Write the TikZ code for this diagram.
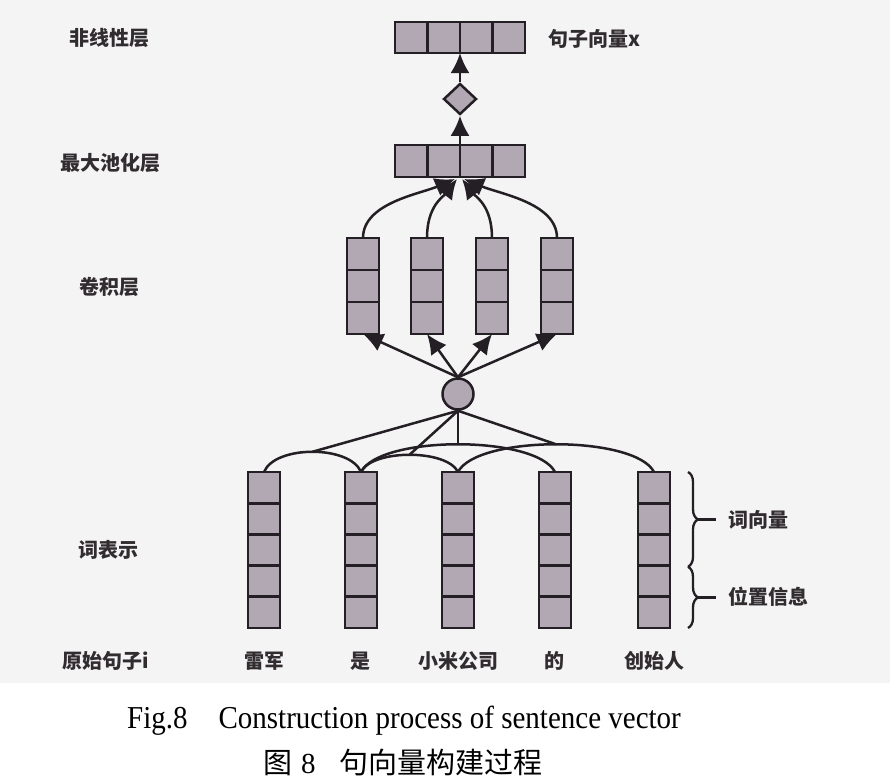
\documentclass[tikz,border=0pt]{standalone}
\usepackage{fontspec}
\setmainfont{Liberation Serif}
\newfontfamily\cjk{Noto Sans CJK SC}
\usetikzlibrary{shapes.geometric,arrows.meta,decorations.pathreplacing}
\definecolor{cellc}{RGB}{177,168,180}
\definecolor{linec}{RGB}{36,31,36}
\definecolor{bgc}{RGB}{245,244,244}
\definecolor{txtc}{RGB}{48,44,48}
\begin{document}
\begin{tikzpicture}[x=1pt,y=-1pt,
  cell/.style={draw=linec, fill=cellc, line width=2.8pt, minimum width=32pt, minimum height=31.2pt, inner sep=0pt, outer sep=0pt},
  conn/.style={draw=linec, line width=2.5pt},
  arr/.style={conn, -{Latex[length=20pt,width=19pt]}},
  lab/.style={font=\cjk\bfseries\fontsize{20}{20}\selectfont, text=txtc, inner sep=0pt},
  captext/.style={inner sep=0pt, anchor=base west, text=black}
  ]
\useasboundingbox (0,0) rectangle (890,780);
\fill[bgc] (0,0) rectangle (890,683);
\fill[white] (0,683) rectangle (890,780);

% word representation columns
\foreach \i/\x in {1/264,2/361,3/458,4/555,5/654}{
  \foreach \j in {1,...,5}{
    \node[cell] (w\i-\j) at (\x,{472+31.2*(\j-0.5)}) {};
  }
}
% convolution columns
\foreach \i/\x in {1/363,2/427,3/492,4/557}{
  \foreach \j in {1,2,3}{
    \node[cell, minimum height=32pt] (c\i-\j) at (\x,{238+32*(\j-0.5)}) {};
  }
}
% pooling and top vectors
\foreach \j/\x in {1/411.25,2/443.75,3/476.25,4/508.75}{
  \node[cell, minimum width=32.5pt, minimum height=32pt] (p\j) at (\x,161) {};
  \node[cell, minimum width=32.5pt, minimum height=31pt] (t\j) at (\x,37.5) {};
}
\node[diamond, draw=linec, fill=cellc, line width=2.5pt, minimum width=33pt, minimum height=31pt, inner sep=0pt] (dia) at (460,99) {};
\node[circle, draw=linec, fill=cellc, line width=2.5pt, minimum size=31pt, inner sep=0pt] (hub) at (458,394) {};

% arrows up
\draw[arr] (p2.north east) -- (dia.south);
\draw[arr] (dia.north) -- (t2.south east);
\foreach \i in {1,...,4}{
  \draw[arr] (hub.north) -- (c\i-3.south);
}
\coordinate (pin1) at (455,179);
\coordinate (pin2) at (457,179);
\coordinate (pin3) at (462,179);
\coordinate (pin4) at (464,179);
\draw[arr] (c1-1.north) .. controls (363,203) and (420,194) .. (pin1);
\draw[arr] (c2-1.north) .. controls (427,206) and (443,197) .. (pin2);
\draw[arr] (c3-1.north) .. controls (492,206) and (476,197) .. (pin3);
\draw[arr] (c4-1.north) .. controls (557,203) and (500,194) .. (pin4);

% arcs over word columns
\draw[conn] (w1-1.north) .. controls (275,445) and (350,445) .. (w2-1.north) coordinate[pos=0.5] (aA);
\draw[conn] (w2-1.north) .. controls (372,449) and (447,449) .. (w3-1.north) coordinate[pos=0.5] (aB);
\draw[conn] (w2-1.north) .. controls (380,435) and (536,435) .. (w4-1.north) coordinate[pos=0.5] (aC);
\draw[conn] (w3-1.north) .. controls (477,435) and (635,435) .. (w5-1.north) coordinate[pos=0.5] (aD);
\foreach \a in {aA,aB,aC,aD}{
  \draw[conn] (hub.south) -- (\a);
}

% braces
\coordinate (bt) at (688,472);
\coordinate (bm) at (688,566.8);
\coordinate (bb) at (688,628);
\draw[conn, line width=2.3pt, decorate, decoration={brace, amplitude=10pt}] (bt) -- (bm);
\draw[conn, line width=2.3pt, decorate, decoration={brace, amplitude=10pt}] (bm) -- (bb);
\coordinate (tu) at (698,519.4);
\coordinate (tl) at (698,597.4);
\node[lab, anchor=west] (lwv) at (728,520) {词向量};
\node[lab, anchor=west] (lpos) at (728,597) {位置信息};
\draw[conn, line width=2.3pt] (tu) -- ++(18,0);
\draw[conn, line width=2.3pt] (tl) -- ++(18,0);

% left labels
\node[lab] (l1) at (109,38) {非线性层};
\node[lab] (l2) at (110,163) {最大池化层};
\node[lab] (l3) at (109,287) {卷积层};
\node[lab] (l4) at (108,550) {词表示};
\node[lab] (l5) at (106,661) {原始句子i};
\node[lab, anchor=west] (lx) at (548,39) {句子向量x};

% words
\node[lab] (s1) at (264,661) {雷军};
\node[lab] (s2) at (360,661) {是};
\node[lab] (s3) at (458,661) {小米公司};
\node[lab] (s4) at (554,661) {的};
\node[lab] (s5) at (654,661) {创始人};

% caption
\node[captext, font=\fontsize{29}{29}\selectfont] (capen) at (127,728) {\scalebox{1}[1.1]{Fig.8\hspace{31pt}Construction process of sentence vector}};
\node[captext, font=\cjk\fontsize{29}{29}\selectfont] (capzh) at (263,773) {图\hspace{9pt}{\rmfamily 8}\hspace{24pt}句向量构建过程};
\end{tikzpicture}
\end{document}
